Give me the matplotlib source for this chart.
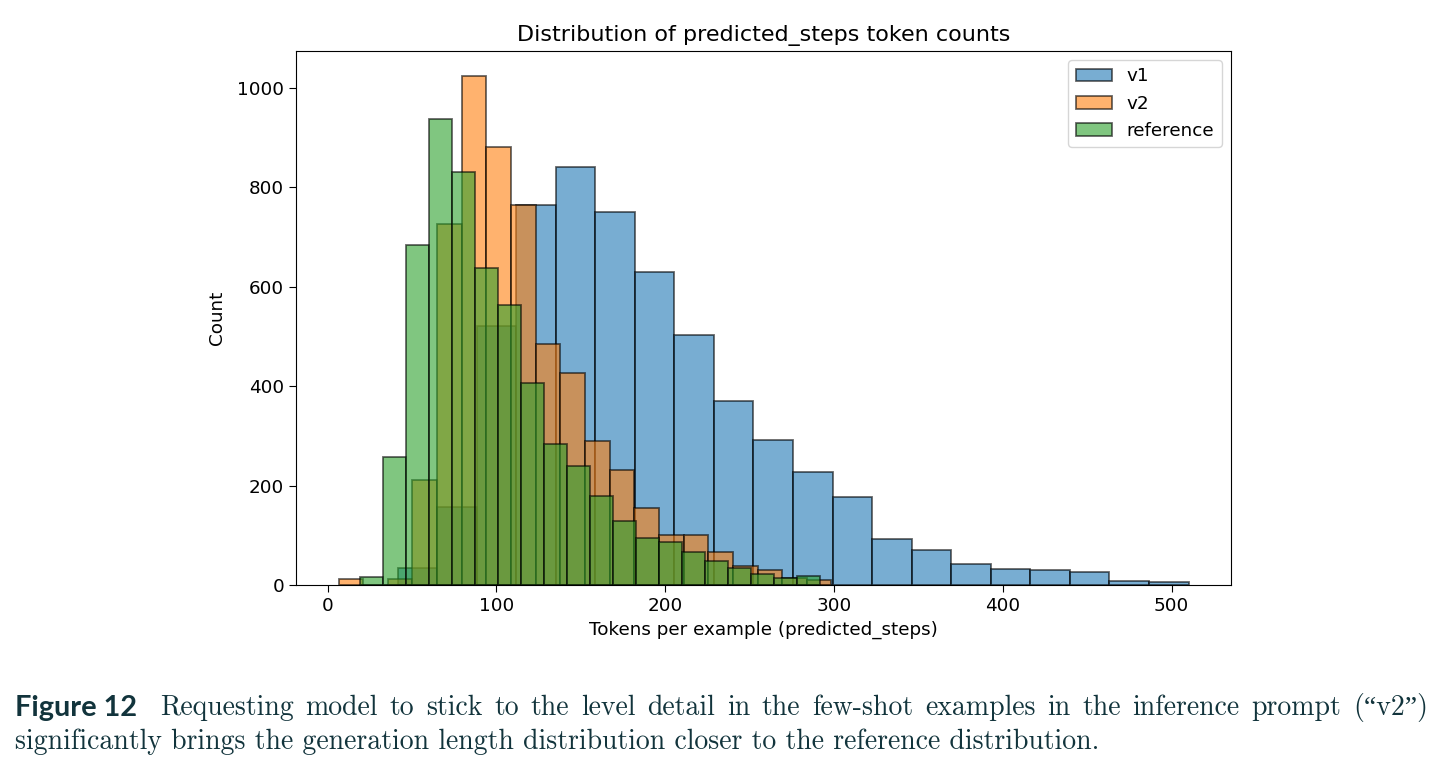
import numpy as np
import matplotlib
matplotlib.use('Agg')
import matplotlib.pyplot as plt

# per-bin counts (20 bins per series)
v1_counts = [34, 157, 521, 765, 840, 750, 630, 502, 370, 292,
             227, 177, 92, 70, 43, 33, 30, 26, 9, 7]
v1_range = (41.5, 510.0)

v2_counts = [13, 0, 12, 212, 726, 1023, 882, 765, 485, 426,
             289, 231, 155, 100, 100, 67, 38, 30, 15, 10]
v2_range = (6.5, 298.5)

ref_counts = [16, 257, 683, 938, 831, 638, 563, 407, 283, 240,
              180, 129, 95, 87, 66, 48, 35, 22, 15, 18]
ref_range = (19.1, 291.7)

series_labels = ['v1', 'v2', 'reference']

title = 'Distribution of predicted_steps token counts'
xlabel = 'Tokens per example (predicted_steps)'
ylabel = 'Count'
caption_head = 'Figure 12'
caption_line1 = 'Requesting model to stick to the level detail in the few-shot examples in the inference prompt (\u201cv2\u201d)'
caption_line2 = 'significantly brings the generation length distribution closer to the reference distribution.'

W, H = 1445, 770


# draw one histogram from bin counts
def draw_hist(ax, counts, rng, label):
    edges = np.linspace(rng[0], rng[1], len(counts) + 1)
    centers = (edges[:-1] + edges[1:]) / 2
    ax.hist(centers, bins=edges, weights=counts, alpha=0.6,
            edgecolor='black', linewidth=1.3, label=label)


# write a line word by word so it fills x0..x1 (justified)
def justify_line(fig, text, x0, x1, y, **kw):
    renderer = fig.canvas.get_renderer()
    words = text.split(' ')
    texts = [fig.text(0, y, w, **kw) for w in words]
    widths = [t.get_window_extent(renderer).width for t in texts]
    gap = (x1 - x0 - sum(widths)) / (len(words) - 1)
    x = x0
    for t, wd in zip(texts, widths):
        t.set_x(x / W)
        x += wd + gap


fig = plt.figure(figsize=(W / 100, H / 100), dpi=100)
ax = fig.add_axes([296 / W, 1 - 585 / H, (1231 - 296) / W, (585 - 51) / H])

draw_hist(ax, v1_counts, v1_range, series_labels[0])
draw_hist(ax, v2_counts, v2_range, series_labels[1])
draw_hist(ax, ref_counts, ref_range, series_labels[2])

ax.set_title(title, fontsize=16, pad=7)
ax.set_xlabel(xlabel, fontsize=13.2, labelpad=4)
ax.set_ylabel(ylabel, fontsize=13.2, labelpad=8)
ax.tick_params(labelsize=13.2, length=5)
ax.legend(loc='upper right', fontsize=13.2)

# caption below the chart
cap_color = '#12343c'
serif = ['cmr10', 'Liberation Serif']
fig.text(15 / W, 1 - 708 / H, caption_head, fontsize=20.8, fontweight='bold',
         family=['Lato', 'DejaVu Sans'], color=cap_color, va='center')
justify_line(fig, caption_line1, 160, 1428, 1 - 708 / H, fontsize=20,
             family=serif, color=cap_color, va='center')
fig.text(15 / W, 1 - 742 / H, caption_line2, fontsize=20,
         family=serif, color=cap_color, va='center')

fig.savefig('out.png', dpi=100)
